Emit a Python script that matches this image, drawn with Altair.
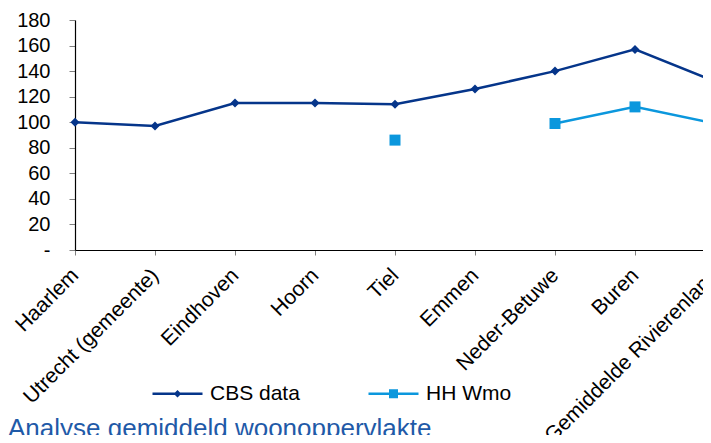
import altair as alt
import pandas as pd

categories = ["Haarlem", "Utrecht (gemeente)", "Eindhoven", "Hoorn", "Tiel",
              "Emmen", "Neder-Betuwe", "Buren", "Gemiddelde Rivierenland"]
cbs_data = [100, 97, 115, 115, 114, 126, 140, 157, 132]
hh_wmo = [None, None, None, None, 86, None, 99, 112, 99]
series_names = ["CBS data", "HH Wmo"]
series_colors = ["#05358a", "#0b97dd"]
marker_shapes = ["diamond", "square"]
marker_sizes = [81, 121]
legend_shapes = [
    "M-5,-0.25L5,-0.25L5,0.25L-5,0.25Z M0,-0.75L0.75,0L0,0.75L-0.75,0Z",
    "M-5,-0.25L5,-0.25L5,0.25L-5,0.25Z M-0.9,-0.9L0.9,-0.9L0.9,0.9L-0.9,0.9Z",
]
y_ticks = [0, 20, 40, 60, 80, 100, 120, 140, 160, 180]
title_text = "Analyse gemiddeld woonoppervlakte"

rows = []
for name, vals in zip(series_names, [cbs_data, hh_wmo]):
    seg = 0
    for cat, v in zip(categories, vals):
        if v is None:
            seg += 1
            continue
        rows.append({"cat": cat, "value": v, "series": name, "seg": f"{name}-{seg}"})
df = pd.DataFrame(rows)

FONT = "Liberation Sans"

x = alt.X(
    "cat:N", sort=categories, title=None,
    scale=alt.Scale(type="point", padding=0, range=[0, 640]),
    axis=alt.Axis(labelAngle=-45, labelAlign="right", labelBaseline="middle",
                  labelFontSize=21, labelFont=FONT, labelColor="#000000",
                  labelPadding=17, labelLimit=500, labelOverlap=False,
                  tickSize=5, tickColor="#808080", domainColor="#000000",
                  domainWidth=1.2, grid=False),
)
y = alt.Y(
    "value:Q", title=None,
    scale=alt.Scale(domain=[0, 180], nice=False, zero=True),
    axis=alt.Axis(values=y_ticks,
                  labelExpr="datum.value == 0 ? '-\u00a0\u00a0' : datum.label",
                  labelFontSize=20, labelFont=FONT, labelColor="#000000",
                  labelPadding=19, tickSize=6, tickColor="#808080",
                  domainColor="#000000", domainWidth=1.2, grid=False),
)

color_nolegend = alt.Color("series:N", scale=alt.Scale(domain=series_names, range=series_colors), legend=None)

lines = alt.Chart(df).mark_line(strokeWidth=2.5).encode(
    x=x, y=y, color=color_nolegend, detail="seg:N"
)
points = alt.Chart(df).mark_point(filled=True, opacity=1).encode(
    x=x, y=y, color=color_nolegend,
    shape=alt.Shape("series:N", scale=alt.Scale(domain=series_names, range=marker_shapes), legend=None),
    size=alt.Size("series:N", scale=alt.Scale(domain=series_names, range=marker_sizes), legend=None),
)
legend = alt.Legend(orient="none", legendX=92, legendY=363, direction="horizontal",
                    columns=2, title=None, symbolSize=100, labelOffset=22,
                    columnPadding=68, labelFontSize=21, labelFont=FONT,
                    labelColor="#000000", padding=0, symbolStrokeWidth=0)
legend_layer = alt.Chart(df).transform_filter("datum.value < 0").mark_point(filled=True, opacity=1).encode(
    x=x, y=y,
    color=alt.Color("series:N", scale=alt.Scale(domain=series_names, range=series_colors), legend=legend),
    shape=alt.Shape("series:N", scale=alt.Scale(domain=series_names, range=legend_shapes), legend=legend),
)

chart = alt.layer(lines, points, legend_layer).resolve_scale(
    color="independent", shape="independent", size="independent"
).properties(
    width=628, height=230,
    autosize=alt.AutoSizeParams(type="none"),
    padding={"left": 67, "top": 12, "right": 0, "bottom": 185},
    title=alt.Title(title_text, orient="top", anchor="start", frame="group",
                    fontSize=26, font=FONT, fontWeight="normal", color="#1f5aa8",
                    dx=-67, dy=453, baseline="alphabetic", offset=0),
).configure_view(stroke=None)

chart.save("out.html", embed_options={"renderer": "svg", "actions": False})
